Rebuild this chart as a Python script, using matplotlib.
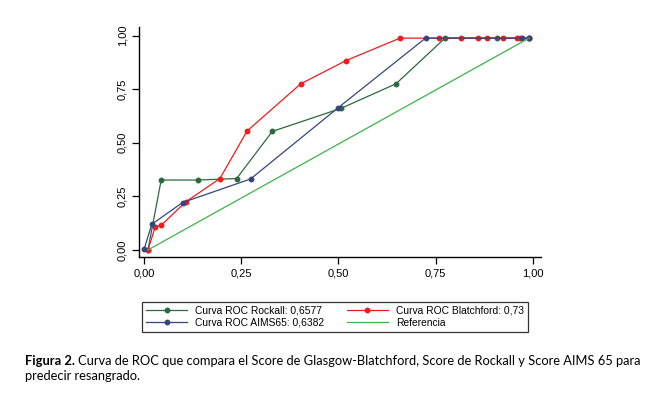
import matplotlib
matplotlib.use("Agg")
import matplotlib.pyplot as plt

# ROC curve points
rockall_fpr = [0.010, 0.044, 0.138, 0.238, 0.330, 0.506, 0.648, 0.774, 0.907, 0.990]
rockall_tpr = [0.000, 0.326, 0.326, 0.333, 0.553, 0.660, 0.775, 0.988, 0.988, 0.988]

blatch_fpr = [0.010, 0.029, 0.044, 0.107, 0.195, 0.265, 0.403, 0.519, 0.658,
              0.759, 0.815, 0.860, 0.881, 0.924, 0.958, 0.967, 0.990]
blatch_tpr = [0.000, 0.109, 0.115, 0.224, 0.333, 0.555, 0.775, 0.883, 0.988,
              0.988, 0.988, 0.988, 0.988, 0.988, 0.988, 0.988, 0.988]

aims_fpr = [0.000, 0.020, 0.099, 0.274, 0.499, 0.724, 0.973, 0.990]
aims_tpr = [0.003, 0.120, 0.221, 0.331, 0.663, 0.988, 0.988, 0.988]

ref_x = [0.010, 0.990]
ref_y = [0.000, 0.988]

ticks = [0.0, 0.25, 0.5, 0.75, 1.0]
tick_labels = ["0,00", "0,25", "0,50", "0,75", "1,00"]

labels = ["Curva ROC Rockall: 0,6577", "Curva ROC Blatchford: 0,73",
          "Curva ROC AIMS65: 0,6382", "Referencia"]

plt.rcParams["font.family"] = ["Liberation Sans", "DejaVu Sans"]

fig = plt.figure(figsize=(6.65, 3.99), dpi=100)
ax = fig.add_axes([139 / 665, 1 - 257 / 399, (541 - 139) / 665, (257 - 27) / 399])

c_rock = "#2b6a3c"
c_blat = "#f01c1c"
c_aims = "#34467c"
c_ref = "#3cb44a"

l1, = ax.plot(rockall_fpr, rockall_tpr, "-o", color=c_rock, lw=0.9, ms=3.2)
l2, = ax.plot(blatch_fpr, blatch_tpr, "-o", color=c_blat, lw=0.9, ms=3.2)
l3, = ax.plot(aims_fpr, aims_tpr, "-o", color=c_aims, lw=0.9, ms=3.2)
l4, = ax.plot(ref_x, ref_y, "-", color=c_ref, lw=0.9)

ax.set_xlim(-0.013, 1.021)
ax.set_ylim(-0.033, 1.04)
ax.set_xticks(ticks)
ax.set_xticklabels(tick_labels)
ax.set_yticks(ticks)
ax.set_yticklabels(tick_labels, rotation=90, va="center")
ax.tick_params(labelsize=8, length=5, width=0.9, direction="out")
for side in ["top", "right"]:
    ax.spines[side].set_visible(False)
for side in ["left", "bottom"]:
    ax.spines[side].set_linewidth(1.0)

leg = fig.legend([l1, l3, l2, l4], [labels[0], labels[2], labels[1], labels[3]],
                 ncol=2, mode="expand", loc="lower left",
                 bbox_to_anchor=(142 / 665, 1 - 332 / 399, (528 - 142) / 665, (332 - 293) / 399),
                 fontsize=7.4, frameon=True, fancybox=False, edgecolor="black",
                 handlelength=4.0, handletextpad=0.8, borderpad=0.4,
                 labelspacing=0.2, borderaxespad=0)
leg.get_frame().set_linewidth(0.9)

# caption
cap_font = ["Lato", "DejaVu Sans"]
cap_y = 1 - 361 / 399
t1 = fig.text(25 / 665, cap_y, "Figura 2.", fontsize=9.3, fontweight="bold",
              family=cap_font, va="center")
fig.canvas.draw()
bb = t1.get_window_extent()
x_next = (bb.x1 + 3) / fig.bbox.width
fig.text(x_next, cap_y,
         "Curva de ROC que compara el Score de Glasgow-Blatchford, Score de Rockall y Score AIMS 65 para",
         fontsize=9.3, family=cap_font, va="center")
fig.text(25 / 665, 1 - 376 / 399, "predecir resangrado.", fontsize=9.3,
         family=cap_font, va="center")

fig.savefig("out.png", dpi=100)
